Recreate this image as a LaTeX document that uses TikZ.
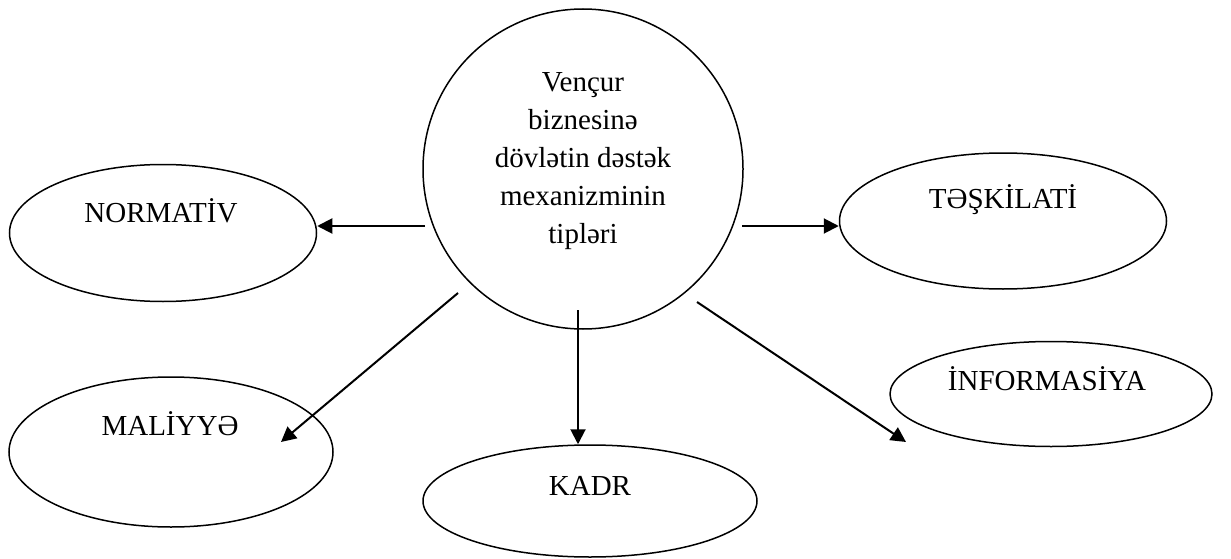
\documentclass[tikz,border=0pt]{standalone}
\usepackage{fontspec}
\setmainfont{Liberation Serif}
\usetikzlibrary{shapes.geometric,arrows.meta}

\begin{document}
\begin{tikzpicture}[x=1pt,y=-1pt,
	oval/.style={draw, ellipse, line width=1.5pt, inner sep=0pt},
	lbl/.style={anchor=base, inner sep=0pt, font=\fontsize{29}{38}\selectfont},
	arr/.style={line width=2pt, -{Triangle[length=15pt,width=15pt]}}]
	\useasboundingbox (0,0) rectangle (1231,559);
	\node[draw, circle, line width=1.5pt, minimum size=320pt, inner sep=0pt] (core) at (583,169) {};
		\node[align=center, inner sep=0pt, font=\fontsize{29}{38}\selectfont] (core-t) at (583,161)
		{Vençur\\biznesinə\\dövlətin dəstək\\mexanizminin\\tipləri};
%
	\node[oval, minimum width=307pt, minimum height=137pt] (normativ) at (163,233) {};
		\node[lbl] (normativ-t) at (161,222) {NORMATİV};
	\node[oval, minimum width=327pt, minimum height=136pt] (teskilati) at (1003,221) {};
		\node[lbl] (teskilati-t) at (1003,208) {TƏŞKİLATİ};
	\node[oval, minimum width=324pt, minimum height=150pt] (maliyye) at (171,452) {};
		\node[lbl] (maliyye-t) at (170,435) {MALİYYƏ};
	\node[oval, minimum width=334pt, minimum height=112pt] (kadr) at (590,501) {};
		\node[lbl] (kadr-t) at (590,495) {KADR};
	\node[oval, minimum width=322pt, minimum height=105pt] (informasiya) at (1051,394) {};
		\node[lbl] (informasiya-t) at (1047,390) {İNFORMASİYA};
%
	\coordinate (n-from) at (425,226);
	\coordinate (t-from) at (742,226);
	\coordinate (k-from) at (578,310);
	\coordinate (m-from) at (458,293);
	\coordinate (m-to) at (281,442);
	\coordinate (i-from) at (697,302);
	\coordinate (i-to) at (906,442);
%
	\draw[arr] (n-from) -- (n-from -| normativ.east);
	\draw[arr] (t-from) -- (t-from -| teskilati.west);
	\draw[arr] (k-from) -- (k-from |- kadr.north);
	\draw[arr] (m-from) -- (m-to);
	\draw[arr] (i-from) -- (i-to);
\end{tikzpicture}
\end{document}
